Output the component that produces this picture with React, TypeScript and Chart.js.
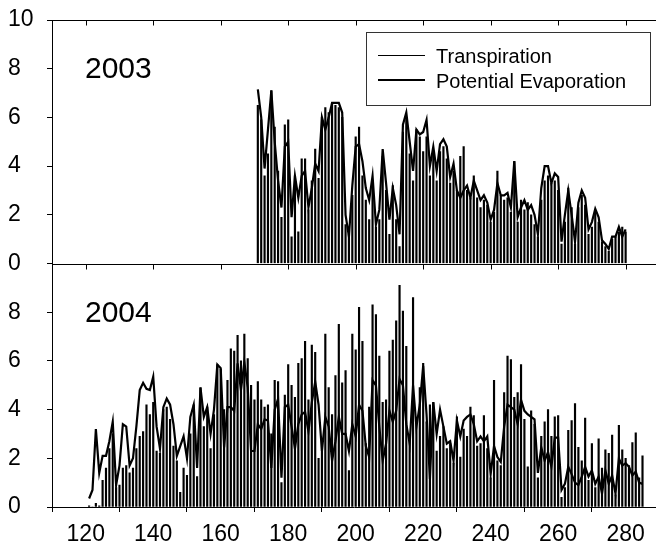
import React, { useEffect, useRef } from 'react';
import { Chart, registerables } from 'chart.js';

Chart.register(...registerables);

const FONT = '"Liberation Sans", Arial, Helvetica, sans-serif';

// Day of year of first value in each series
const start2003 = 171;
const start2004 = 121;

// 2003, days 171-280
const transpiration2003 = [
  6.5, 5.9, 3.6, 4.5, 7.1, 5.6, 3.8, 1.9, 5.7, 5.9,
  1.1, 3.6, 1.3, 4.3, 4.3, 2.2, 3.4, 4.7, 3.5, 6.0,
  6.4, 6.2, 6.6, 6.5, 6.4, 6.0, 1.6, 1.2, 2.8, 5.2,
  5.6, 3.6, 2.6, 1.8, 3.2, 1.5, 1.8, 4.4, 3.0, 1.2,
  3.2, 1.8, 0.7, 5.4, 6.0, 4.5, 3.4, 5.5, 5.2, 4.6,
  5.2, 3.6, 4.5, 3.4, 4.6, 4.8, 4.3, 3.3, 3.8, 3.0,
  4.4, 4.8, 3.0, 2.7, 3.6, 2.7, 2.3, 2.6, 2.4, 1.7,
  2.1, 3.8, 2.8, 2.6, 2.7, 2.1, 4.2, 1.7, 2.6, 2.2,
  2.5, 2.0, 1.6, 1.1, 2.6, 3.4, 3.6, 3.3, 3.4, 3.0,
  0.8, 1.7, 3.1, 2.3, 0.8, 2.3, 2.8, 2.4, 1.2, 1.5,
  2.1, 1.7, 0.9, 0.7, 0.5, 1.0, 1.1, 1.3, 1.5, 1.3,
];
const potentialEvap2003 = [
  7.15, 6.0, 3.9, 5.5, 7.1, 5.0, 3.4, 2.3, 4.8, 5.0,
  1.9, 3.6, 2.7, 3.6, 3.8, 2.3, 3.1, 4.1, 3.8, 6.0,
  5.5, 6.0, 6.6, 6.6, 6.6, 6.2, 2.0, 1.1, 3.2, 4.8,
  4.9, 4.2, 3.1, 2.6, 3.6, 1.6, 2.2, 4.7, 3.3, 1.8,
  3.1, 2.4, 1.2, 5.7, 6.2, 5.0, 3.8, 5.5, 5.3, 5.4,
  5.9, 4.0, 4.8, 3.8, 4.9, 5.1, 4.8, 3.55, 4.1, 3.0,
  2.7, 3.0, 3.2, 2.7, 3.4, 3.0, 2.6, 2.8, 2.5, 1.8,
  2.2, 3.3, 2.8, 2.8, 2.9, 2.3, 4.2, 1.9, 2.3, 2.6,
  2.2, 2.4, 2.0, 1.2, 3.1, 4.0, 4.0, 3.3, 3.7, 3.55,
  0.9, 2.0, 3.0, 2.0, 0.9, 2.5, 3.0, 2.7, 1.4, 1.7,
  2.25, 1.9, 0.95, 0.8, 0.6, 1.1, 1.1, 1.5, 1.1, 1.4,
];

// 2004, days 121-285
const transpiration2004 = [
  0.05, 0.0, 0.15, 0.05, 1.1, 1.6, 2.4, 3.0, 0.8, 0.9,
  1.6, 1.7, 1.4, 1.6, 2.4, 2.9, 3.1, 4.2, 3.8, 4.3,
  2.3, 2.2, 4.0, 4.1, 3.6, 2.5, 1.9, 0.6, 1.6, 1.3,
  3.0, 4.2, 1.25, 4.9, 3.3, 4.1, 2.4, 3.8, 5.85, 5.65,
  4.0, 5.2, 6.5, 6.4, 7.05, 6.0, 7.1, 6.1, 5.0, 4.4,
  5.15, 4.4, 4.1, 4.2, 3.0, 5.2, 5.15, 1.0, 4.6, 5.85,
  5.0, 4.5, 5.9, 6.1, 6.8, 4.4, 6.65, 6.35, 2.0, 2.8,
  7.1, 4.9, 3.8, 5.4, 7.5, 5.1, 5.6, 1.5, 7.1, 6.45,
  8.2, 6.8, 2.6, 4.1, 8.3, 7.9, 6.2, 4.3, 4.4, 6.4,
  6.85, 7.65, 9.1, 8.05, 6.6, 2.8, 8.6, 3.6, 4.9, 5.9,
  3.5, 4.2, 4.3, 2.3, 2.9, 3.3, 2.4, 2.6, 1.8, 3.7,
  2.05, 3.2, 2.9, 4.1, 3.75, 2.5, 2.6, 3.75, 2.4, 1.2,
  5.2, 1.9, 1.7, 4.7, 6.2, 6.05, 4.5, 4.7, 5.85, 3.6,
  1.65, 3.95, 3.4, 1.2, 2.9, 3.5, 4.0, 2.9, 3.7, 3.75,
  0.4, 0.8, 3.15, 3.55, 4.25, 2.45, 1.9, 3.65, 1.1, 2.6,
  0.8, 2.8, 1.6, 2.35, 2.2, 2.95, 0.5, 3.35, 2.35, 2.0,
  1.7, 2.65, 3.05, 1.2, 2.1,
];
const potentialEvap2004 = [
  0.35, 0.7, 3.2, 1.4, 2.1, 2.1, 2.7, 3.5, 0.9, 1.7,
  3.4, 3.3, 1.7, 2.0, 3.3, 4.8, 5.1, 4.85, 4.8, 5.35,
  3.3, 2.4, 4.1, 4.45, 4.2, 3.4, 2.1, 2.5, 2.9, 2.0,
  3.7, 4.2, 1.6, 4.9, 3.7, 4.1, 3.0, 4.0, 5.85, 5.7,
  2.45, 4.1, 4.1, 3.95, 5.9, 4.8, 5.95, 4.9, 2.3, 2.3,
  3.4, 3.2, 3.6, 3.55, 1.6, 4.0, 4.45, 1.2, 4.1, 4.2,
  3.3, 2.4, 3.4, 3.8, 3.9, 3.1, 4.3, 5.15, 4.2, 2.3,
  3.7, 3.3, 1.9, 2.7, 3.7, 3.0, 3.0, 2.3, 3.4, 2.9,
  4.2, 3.95, 2.5, 2.05, 5.2, 5.0, 3.3, 1.9, 2.6, 3.95,
  3.5, 3.95, 5.25, 5.0, 3.4, 2.6, 5.0, 3.3, 4.2, 5.8,
  3.8, 1.15, 4.3, 3.0, 4.0, 3.3, 2.6, 2.7, 1.9, 3.55,
  2.9, 3.55, 3.7, 3.8, 3.4, 2.7, 2.9, 2.7, 2.9, 1.35,
  2.5, 2.05, 1.85, 3.3, 4.2, 4.1, 4.0, 3.4, 4.4, 3.95,
  3.8, 3.7, 3.6, 1.4, 2.45, 1.9, 2.25, 1.65, 2.85, 2.85,
  0.7, 0.95, 1.65, 1.35, 1.0, 0.9, 1.25, 1.65, 1.25, 1.5,
  0.95, 1.25, 0.55, 1.5, 0.95, 1.3, 0.55, 2.0, 1.7, 1.8,
  1.65, 1.3, 1.45, 1.0, 0.95,
];

const xTicks = [120, 140, 160, 180, 200, 220, 240, 260, 280];
const yTicksTop = [0, 2, 4, 6, 8, 10];
const yTicksBottom = [0, 2, 4, 6, 8, 10];
const panelLabels = ['2003', '2004'];
const legendLabels = ['Transpiration', 'Potential Evaporation'];

const toPoints = (start: number, values: number[]) =>
  values.map((v, i) => ({ x: start + i, y: v }));

const overlayPlugin = {
  id: 'panelOverlay',
  afterDraw(chart: any) {
    const { ctx, chartArea, scales } = chart;
    const xs = scales.x;
    const yT = scales.yTop;
    const yB = scales.yBottom;
    ctx.save();
    ctx.strokeStyle = '#000';
    ctx.lineWidth = 1;
    const topY = Math.round(yT.top) + 0.5;
    const midY = Math.round(yT.bottom) + 0.5;
    const hline = (x1: number, x2: number, y: number) => {
      ctx.beginPath();
      ctx.moveTo(x1, y);
      ctx.lineTo(x2, y);
      ctx.stroke();
    };
    hline(chartArea.left, chartArea.right, topY);
    hline(chartArea.left, chartArea.right, midY);
    xTicks.forEach((v) => {
      const px = Math.round(xs.getPixelForValue(v)) + 0.5;
      ctx.beginPath();
      ctx.moveTo(px, topY);
      ctx.lineTo(px, topY + 5);
      ctx.moveTo(px, midY);
      ctx.lineTo(px, midY + 5);
      ctx.stroke();
    });

    // panel labels
    ctx.fillStyle = '#000';
    ctx.font = `30px ${FONT}`;
    ctx.textAlign = 'left';
    ctx.textBaseline = 'alphabetic';
    ctx.fillText(panelLabels[0], chartArea.left + 33, yT.top + 58);
    ctx.fillText(panelLabels[1], chartArea.left + 33, yB.top + 58);

    // legend
    const lx = chartArea.left + 314;
    const ly = chartArea.top + 12;
    ctx.fillStyle = '#fff';
    ctx.fillRect(lx, ly, 284, 73);
    ctx.strokeStyle = '#333';
    ctx.lineWidth = 1;
    ctx.strokeRect(lx + 0.5, ly + 0.5, 284, 73);
    ctx.strokeStyle = '#000';
    ctx.lineWidth = 1;
    ctx.beginPath();
    ctx.moveTo(lx + 12, ly + 23.5);
    ctx.lineTo(lx + 59, ly + 23.5);
    ctx.stroke();
    ctx.lineWidth = 2;
    ctx.beginPath();
    ctx.moveTo(lx + 12, ly + 48);
    ctx.lineTo(lx + 59, ly + 48);
    ctx.stroke();
    ctx.fillStyle = '#000';
    ctx.font = `20px ${FONT}`;
    ctx.fillText(legendLabels[0], lx + 70, ly + 31);
    ctx.fillText(legendLabels[1], lx + 70, ly + 56);
    ctx.restore();
  },
};

export default function App() {
  const canvasRef = useRef<HTMLCanvasElement | null>(null);

  useEffect(() => {
    const canvas = canvasRef.current;
    if (!canvas) return;
    Chart.defaults.font.family = FONT;
    Chart.defaults.color = '#000';

    const yCommon = (ticks: number[], hideTop: boolean) => ({
      type: 'linear' as const,
      position: 'left' as const,
      stack: 'panels',
      stackWeight: 1,
      min: 0,
      max: 10,
      afterBuildTicks: (s: any) => {
        s.ticks = ticks.map((v) => ({ value: v }));
      },
      afterFit: (s: any) => {
        s.width = 44;
      },
      grid: {
        display: true,
        drawOnChartArea: false,
        drawTicks: true,
        tickLength: 5,
        color: '#000',
        lineWidth: 1,
      },
      border: { display: true, color: '#000', width: 1 },
      ticks: {
        color: '#000',
        font: { size: 23, family: FONT },
        crossAlign: 'far' as const,
        autoSkip: false,
        callback: (v: any) => (hideTop && v === 10 ? '' : String(v)),
      },
    });

    const chart = new Chart(canvas, {
      type: 'bar',
      data: {
        datasets: [
          {
            type: 'line',
            label: legendLabels[1] + ' 2003',
            data: toPoints(start2003, potentialEvap2003),
            yAxisID: 'yTop',
            borderColor: '#000',
            borderWidth: 2.2,
            pointRadius: 0,
            tension: 0,
            fill: false,
            order: 0,
          },
          {
            type: 'line',
            label: legendLabels[1] + ' 2004',
            data: toPoints(start2004, potentialEvap2004),
            yAxisID: 'yBottom',
            borderColor: '#000',
            borderWidth: 2.2,
            pointRadius: 0,
            tension: 0,
            fill: false,
            order: 0,
          },
          {
            type: 'bar',
            label: legendLabels[0] + ' 2003',
            data: toPoints(start2003, transpiration2003),
            yAxisID: 'yTop',
            backgroundColor: '#000',
            borderWidth: 0,
            barThickness: 1.5,
            grouped: false,
            order: 1,
          },
          {
            type: 'bar',
            label: legendLabels[0] + ' 2004',
            data: toPoints(start2004, transpiration2004),
            yAxisID: 'yBottom',
            backgroundColor: '#000',
            borderWidth: 0,
            barThickness: 1.5,
            grouped: false,
            order: 1,
          },
        ] as any,
      },
      options: {
        responsive: false,
        animation: false,
        events: [],
        layout: { padding: { left: 8, top: 20, right: 0, bottom: 0 } },
        plugins: {
          legend: { display: false },
          tooltip: { enabled: false },
          title: { display: false },
        },
        scales: {
          x: {
            type: 'linear',
            position: 'bottom',
            min: 110,
            max: 289,
            offset: false,
            afterBuildTicks: (s: any) => {
              s.ticks = xTicks.map((v) => ({ value: v }));
            },
            afterFit: (s: any) => {
              s.height = 37;
            },
            grid: {
              display: true,
              drawOnChartArea: false,
              drawTicks: true,
              tickLength: 5,
              color: '#000',
              lineWidth: 1,
            },
            border: { display: true, color: '#000', width: 1 },
            ticks: {
              color: '#000',
              font: { size: 23, family: FONT },
              padding: 9,
              maxRotation: 0,
              autoSkip: false,
            },
          },
          yBottom: yCommon(yTicksBottom, true),
          yTop: yCommon(yTicksTop, false),
        } as any,
      },
      plugins: [overlayPlugin],
    });

    return () => {
      chart.destroy();
    };
  }, []);

  return (
    <div style={{ position: 'absolute', left: 0, top: 0, width: 656, height: 544, background: '#fff' }}>
      <canvas ref={canvasRef} width={656} height={544} style={{ display: 'block' }} />
    </div>
  );
}
